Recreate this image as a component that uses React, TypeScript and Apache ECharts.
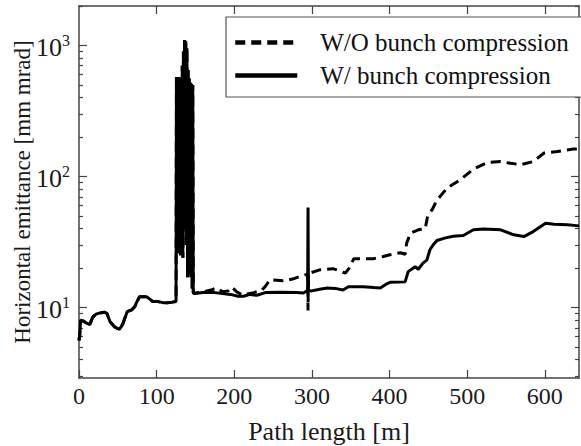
import { useEffect, useRef } from 'react';
import * as echarts from 'echarts';

// ---- data ----
const seriesNames = ['W/O bunch compression', 'W/ bunch compression'];

const xTickValues = [0, 100, 200, 300, 400, 500, 600];
const yMajorTicks = [10, 100, 1000];
const yMinorTicks = [3, 4, 5, 6, 7, 8, 9, 20, 30, 40, 50, 60, 70, 80, 90, 200, 300, 400, 500, 600, 700, 800, 900, 2000];

// common path of both runs (0 .. 125 m)
const sharedStart: [number, number][] = [
  [0, 5.6], [1, 6.2], [2, 8.0], [5, 7.9], [7, 7.8], [10, 7.6], [14, 7.4], [16, 8.0], [18, 8.5],
  [22, 8.9], [27, 9.1], [33, 9.2], [36, 9.0], [40, 7.8], [46, 7.1], [52, 6.8], [56, 7.4],
  [60, 8.6], [62, 9.3], [68, 9.6], [72, 10.2], [74, 10.9], [78, 12.1], [87, 12.1],
  [92, 11.5], [95, 11.1], [102, 11.1], [108, 10.9], [114, 10.9], [120, 11.0], [125, 11.1],
];

// strongly oscillating region (126 .. 147 m)
const spikeRegion: [number, number][] = [
  [125.5, 575], [126.3, 30], [127, 560], [127.8, 26], [128.5, 575], [129.2, 29], [130, 500],
  [130.8, 25], [131.5, 560], [132.2, 27], [133, 700], [133.8, 24], [134.5, 900], [135.2, 40],
  [136, 1100], [136.8, 60], [137.5, 1080], [138.2, 30], [139, 950], [139.8, 17], [140.5, 650],
  [141.2, 18], [142, 560], [142.8, 20], [143.5, 520], [144.2, 17], [145, 510], [145.8, 14],
  [146.5, 500], [147.2, 13], [148, 12.8],
];

const withoutCompressionTail: [number, number][] = [
  [160, 13.2], [170, 13.6], [177, 14.1], [185, 13.2], [192, 13.4], [197, 14.3], [203, 13.2],
  [210, 12.5], [225, 13.0], [235, 13.5], [240, 14.5], [246, 16.3], [263, 16.0], [275, 16.5],
  [285, 17.3], [294.5, 18.0], [295, 9.5], [295.5, 18.2], [310, 19.4], [327, 19.8], [332, 19.4],
  [343, 18.3], [348, 20.0], [354, 23.6], [379, 23.6], [392, 24.5], [399, 25.2], [414, 26.2],
  [420, 25.5], [422, 31.0], [427, 37.0], [437, 39.2], [446, 40.0], [449, 50.0], [455, 56.0],
  [461, 66.0], [474, 81.5], [491, 94.4], [508, 114], [526, 128], [543, 130], [556, 126],
  [569, 123], [585, 130], [599, 151], [616, 155], [637, 162], [644, 162],
];

const withCompressionTail: [number, number][] = [
  [160, 13.0], [175, 13.0], [185, 12.8], [195, 12.6], [205, 12.2], [212, 12.2], [220, 12.6],
  [229, 12.4], [240, 13.0], [260, 13.1], [280, 13.0], [289, 12.9], [294.5, 13.5], [295, 58],
  [295.5, 13.5], [300, 13.4], [310, 13.8], [320, 14.1], [330, 14.0], [340, 13.6], [347, 14.4],
  [366, 14.4], [380, 14.2], [388, 14.1], [395, 15.0], [401, 15.6], [420, 15.7], [424, 18.8],
  [433, 20.5], [437, 19.6], [443, 21.8], [448, 23.0], [452, 27.6], [456, 30.0], [461, 32.5],
  [472, 34.0], [482, 35.0], [495, 35.5], [508, 39.2], [521, 39.7], [543, 39.2], [560, 35.9],
  [573, 34.8], [585, 38.0], [601, 44.0], [612, 43.3], [629, 42.9], [644, 42.0],
];

const FONT = 'Liberation Serif';
const TEXT_COLOR = '#1a1a1a';
const AXIS_COLOR = '#444';

export default function App() {
  const ref = useRef<HTMLDivElement>(null);

  useEffect(() => {
    if (!ref.current) return;
    const chart = echarts.init(ref.current, undefined, { renderer: 'svg' });

    const withoutData = [...sharedStart, ...spikeRegion, ...withoutCompressionTail];
    const withData = [...sharedStart, ...spikeRegion, ...withCompressionTail];

    const axisLine = { show: true, lineStyle: { color: AXIS_COLOR, width: 1.5 } };
    const tickLine = { color: AXIS_COLOR, width: 1.2 };

    const yBase = { type: 'log' as const, logBase: 10, min: 2.9, max: 2000, splitLine: { show: false } };

    chart.setOption({
      animation: false,
      backgroundColor: '#fff',
      textStyle: { fontFamily: FONT },
      grid: { left: 79, right: 2, top: 6, bottom: 68, containLabel: false, outerBoundsMode: 'none' },
      legend: {
        orient: 'vertical',
        left: 226,
        top: 17,
        padding: [13, 20, 9, 7],
        itemGap: 8,
        itemWidth: 62,
        itemHeight: 2,
        borderColor: '#555',
        borderWidth: 1.2,
        backgroundColor: '#fff',
        data: seriesNames,
        itemStyle: { opacity: 0, color: 'rgba(0,0,0,0)', borderWidth: 0 },
        lineStyle: { width: 4.5 },
        textStyle: { fontFamily: FONT, fontSize: 25, color: '#111', padding: [0, 0, 0, 18] },
      },
      xAxis: [
        {
          type: 'value', position: 'bottom', min: 0, max: 644, interval: 100,
          axisLine,
          axisTick: { inside: true, length: 8, lineStyle: tickLine, customValues: xTickValues },
          axisLabel: { fontFamily: FONT, fontSize: 24, color: TEXT_COLOR, margin: 6, customValues: xTickValues },
          splitLine: { show: false },
          name: 'Path length [m]', nameLocation: 'middle', nameGap: 40, nameMoveOverlap: false,
          nameTextStyle: { fontFamily: FONT, fontSize: 26, color: TEXT_COLOR },
        },
        {
          type: 'value', position: 'top', min: 0, max: 644, interval: 100,
          axisLine,
          axisTick: { inside: true, length: 8, lineStyle: tickLine, customValues: xTickValues.slice(1) },
          axisLabel: { show: false },
          splitLine: { show: false },
        },
      ],
      yAxis: [
        {
          ...yBase, position: 'left',
          axisLine,
          axisTick: { inside: true, length: 8, lineStyle: tickLine, customValues: yMajorTicks },
          axisLabel: {
            customValues: yMajorTicks,
            margin: 9,
            formatter: (v: number) => `{b|10}{s|${Math.round(Math.log10(v))}}`,
            rich: {
              b: { fontFamily: FONT, fontSize: 26, color: TEXT_COLOR, lineHeight: 26, padding: [4, 0, 0, 0] },
              s: { fontFamily: FONT, fontSize: 16, color: TEXT_COLOR, lineHeight: 12, verticalAlign: 'top' },
            },
          },
          name: 'Horizontal emittance [mm mrad]', nameLocation: 'middle', nameGap: 45, nameMoveOverlap: false,
          nameTextStyle: { fontFamily: FONT, fontSize: 23, color: TEXT_COLOR },
        },
        {
          ...yBase, position: 'left',
          axisLine: { show: false },
          axisTick: { inside: true, length: 4, lineStyle: tickLine, customValues: yMinorTicks },
          axisLabel: { show: false },
        },
        {
          ...yBase, position: 'right',
          axisLine,
          axisTick: { inside: true, length: 8, lineStyle: tickLine, customValues: yMajorTicks },
          axisLabel: { show: false },
        },
        {
          ...yBase, position: 'right',
          axisLine: { show: false },
          axisTick: { inside: true, length: 4, lineStyle: tickLine, customValues: yMinorTicks },
          axisLabel: { show: false },
        },
      ],
      series: [
        {
          name: seriesNames[0], type: 'line', xAxisIndex: 0, yAxisIndex: 0,
          data: withoutData, symbol: 'none', showSymbol: false,
          lineStyle: { color: '#000', width: 3, type: [10, 6] },
          itemStyle: { color: '#000' },
          z: 3,
        },
        {
          name: seriesNames[1], type: 'line', xAxisIndex: 0, yAxisIndex: 0,
          data: withData, symbol: 'none', showSymbol: false,
          lineStyle: { color: '#000', width: 3 },
          itemStyle: { color: '#000' },
          z: 2,
        },
      ],
    });

    return () => chart.dispose();
  }, []);

  return (
    <div
      ref={ref}
      style={{ position: 'fixed', left: 0, top: 0, width: 581, height: 446, background: '#fff' }}
    />
  );
}
